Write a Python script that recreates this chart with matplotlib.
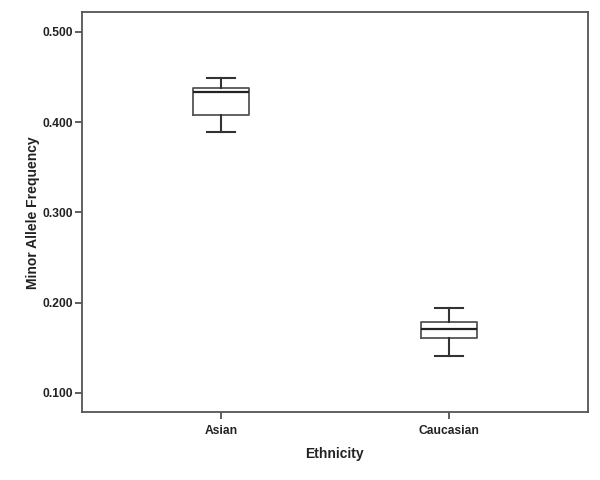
import matplotlib
matplotlib.use("Agg")
import matplotlib.pyplot as plt

categories = ["Asian", "Caucasian"]
whisker_low = [0.389, 0.141]
q1 = [0.408, 0.1606]
median = [0.4332, 0.1712]
q3 = [0.4383, 0.1783]
whisker_high = [0.4487, 0.1939]
yticks = [0.100, 0.200, 0.300, 0.400, 0.500]

plt.rcParams['font.family'] = ['Liberation Sans', 'DejaVu Sans']

fig = plt.figure(figsize=(6, 4.8), dpi=100)
ax = fig.add_axes([81.7/600, 1-412.3/480, (587.7-81.7)/600, (412.3-12.3)/480])

stats = []
for i, c in enumerate(categories):
    stats.append(dict(label=c, whislo=whisker_low[i], q1=q1[i], med=median[i],
                      q3=q3[i], whishi=whisker_high[i], fliers=[]))

lc = "#333333"
ax.bxp(stats, positions=[0, 1], widths=0.245, showfliers=False,
       boxprops=dict(color="#555555", linewidth=1.3),
       medianprops=dict(color="#222222", linewidth=1.6),
       whiskerprops=dict(color=lc, linewidth=1.5),
       capprops=dict(color=lc, linewidth=1.5),
       capwidths=0.123)

ax.set_xlim(-0.613, 1.609)
ax.set_ylim(0.0786, 0.5218)
ax.set_yticks(yticks)
ax.set_yticklabels([f"{v:.3f}" for v in yticks], fontsize=8.7, fontweight='bold', color="#222222")
ax.set_xticks([0, 1])
ax.set_xticklabels(categories, fontsize=8.7, fontweight='bold', color="#222222")
ax.tick_params(axis='both', direction='out', length=5, width=1.2, color="#444444", pad=1)
ax.tick_params(axis='x', pad=4)
for s in ax.spines.values():
    s.set_color("#555555")
    s.set_linewidth(1.3)

ax.set_xlabel("Ethnicity", fontsize=10, fontweight='bold', color="#222222", labelpad=7)
ax.set_ylabel("Minor Allele Frequency", fontsize=10, fontweight='bold', color="#222222", labelpad=2)

fig.savefig("out.png", dpi=100)
